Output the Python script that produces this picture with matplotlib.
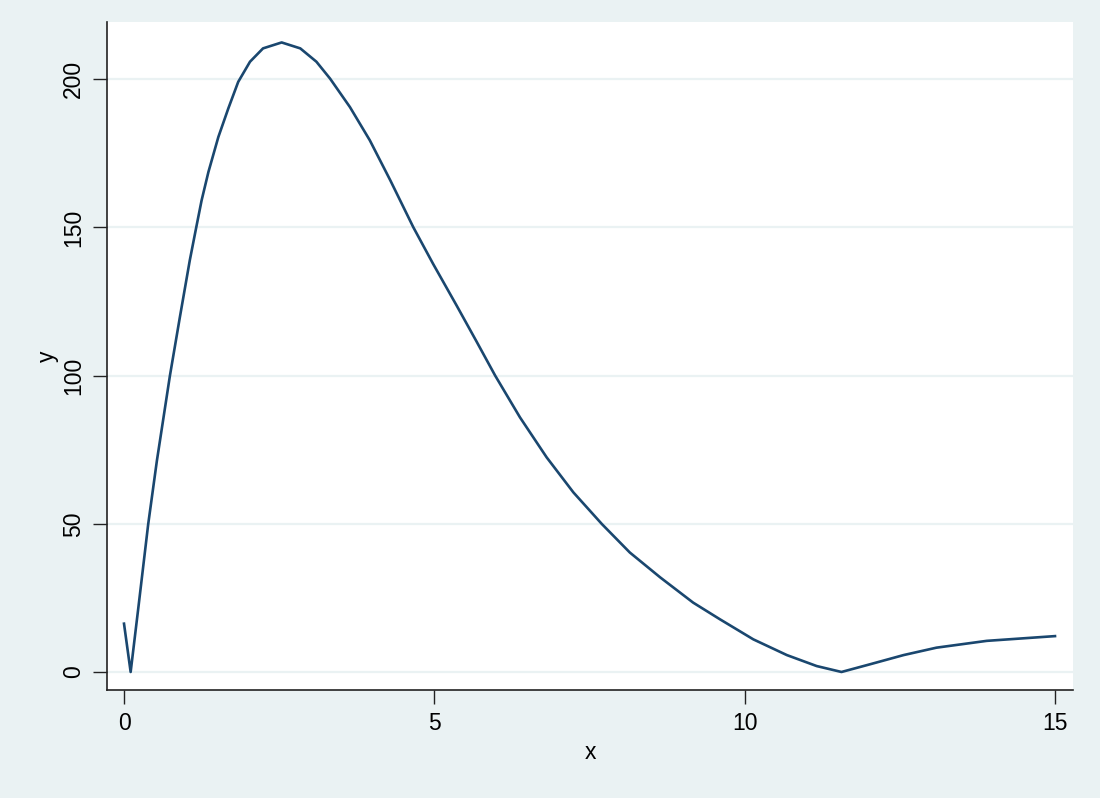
import matplotlib.pyplot as plt

# values
x_vals = [0.0, 0.107, 0.23, 0.39, 0.53, 0.74, 0.90, 1.06, 1.16, 1.25, 1.36, 1.52,
          1.68, 1.84, 2.03, 2.24, 2.54, 2.84, 3.10, 3.32, 3.64, 3.96, 4.29, 4.66,
          4.98, 5.36, 5.68, 5.98, 6.38, 6.81, 7.24, 7.70, 8.15, 8.64, 9.17, 9.60,
          10.14, 10.68, 11.16, 11.56, 12.02, 12.56, 13.09, 13.90, 15.0]
y_vals = [16.3, 0.0, 21.5, 49.9, 71.3, 100.0, 119.7, 138.9, 149.6, 159.1, 168.7, 180.5,
          190.1, 199.1, 205.9, 210.4, 212.4, 210.4, 205.9, 200.2, 190.6, 179.4, 165.9, 150.1,
          137.7, 123.6, 111.5, 100.0, 85.9, 72.4, 60.6, 49.9, 40.3, 31.9, 23.4, 17.8,
          11.0, 5.7, 2.0, 0.0, 2.6, 5.7, 8.2, 10.5, 12.1]

x_ticks = [0, 5, 10, 15]
y_ticks = [0, 50, 100, 150, 200]

bg = '#EAF2F3'
navy = '#1A476F'

plt.rcParams['font.family'] = ['Liberation Sans', 'DejaVu Sans']

fig = plt.figure(figsize=(11, 7.98), dpi=100, facecolor=bg)
ax = fig.add_axes([107 / 1100, 1 - 690 / 798, (1073 - 107) / 1100, (690 - 22) / 798])
ax.set_facecolor('white')

ax.plot(x_vals, y_vals, color=navy, lw=1.9, zorder=3, solid_joinstyle='round')

ax.set_xlim(-0.274, 15.29)
ax.set_ylim(-6.08, 219.3)
ax.set_xticks(x_ticks)
ax.set_yticks(y_ticks)
ax.grid(axis='y', color=bg, lw=1.6, zorder=0)
ax.grid(axis='x', visible=False)

for side in ['top', 'right']:
    ax.spines[side].set_visible(False)
for side in ['left', 'bottom']:
    ax.spines[side].set_color('#222222')
    ax.spines[side].set_linewidth(1.2)

ax.tick_params(axis='both', direction='out', length=10, width=1.0, color='#222222',
               labelsize=16.5, pad=6)
plt.setp(ax.get_yticklabels(), rotation=90, va='center')

ax.set_xlabel('x', fontsize=16.5, labelpad=4)
ax.set_ylabel('y', fontsize=16.5, labelpad=2)

fig.savefig('out.png', dpi=100, facecolor=bg)
